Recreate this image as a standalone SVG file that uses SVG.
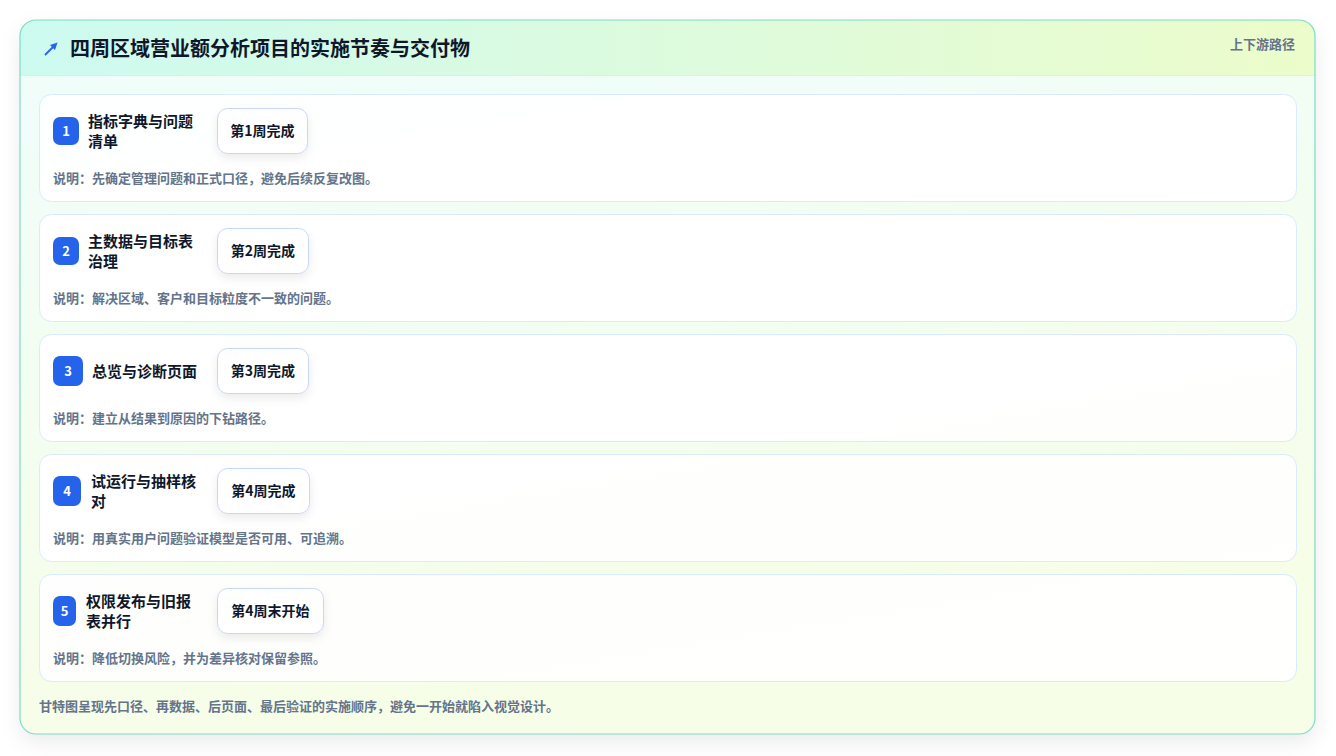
<svg xmlns="http://www.w3.org/2000/svg" width="1336" height="756" viewBox="0 0 1336 756">
<defs>
<linearGradient id="hdr" x1="0" y1="0" x2="1" y2="0">
<stop offset="0" stop-color="#cdfaf0"/>
<stop offset="1" stop-color="#ecfccb"/>
</linearGradient>
<linearGradient id="body" x1="0" y1="0" x2="0.3" y2="1">
<stop offset="0" stop-color="#effdfb"/>
<stop offset="1" stop-color="#f7fee7"/>
</linearGradient>
<clipPath id="cardClip"><rect x="20" y="20" width="1295" height="714" rx="16"/></clipPath>
<filter id="shadow" x="-10%" y="-10%" width="120%" height="130%">
<feDropShadow dx="0" dy="8" stdDeviation="10" flood-color="#0f172a" flood-opacity="0.08"/>
</filter>
<filter id="tagShadow" x="-20%" y="-20%" width="140%" height="160%">
<feDropShadow dx="0" dy="4" stdDeviation="5" flood-color="#0f172a" flood-opacity="0.08"/>
</filter>
<marker id="arr" viewBox="0 0 10 10" refX="5" refY="5" markerWidth="4" markerHeight="4" orient="auto">
<path d="M0,0 L10,5 L0,10 z" fill="#2563eb"/>
</marker>
</defs>
<style>
text{font-family:"Noto Sans CJK SC","Noto Sans",sans-serif;}
.title{font-size:20px;font-weight:700;fill:#0f172a;}
.meta{font-size:13px;font-weight:600;fill:#64748b;}
.row{fill:#ffffff;fill-opacity:0.9;stroke:#dbeafe;stroke-width:1;}
.badge{fill:#2563eb;}
.bnum{font-size:13px;font-weight:700;fill:#ffffff;text-anchor:middle;}
.name{font-size:15px;font-weight:700;fill:#0f172a;}
.tag{fill:#ffffff;stroke:#c7d7f5;stroke-width:1;}
.tagt{font-size:14px;font-weight:700;fill:#0f172a;text-anchor:middle;}
.desc{font-size:13px;font-weight:600;fill:#64748b;}
</style>
<rect width="1336" height="756" fill="#ffffff"/>
<g id="card">
<rect x="20" y="20" width="1295" height="714" rx="16" fill="url(#body)" filter="url(#shadow)"/>
<g clip-path="url(#cardClip)">
<rect x="20" y="20" width="1295" height="55" fill="url(#hdr)"/>
<line x1="20" y1="75.5" x2="1315" y2="75.5" stroke="#d5f3ee" stroke-width="1"/>
</g>
<rect x="20" y="20" width="1295" height="714" rx="16" fill="none" stroke="#7ddcc8" stroke-width="1.2"/>
</g>
<g id="header">
<line x1="45" y1="55" x2="55" y2="45" stroke="#2563eb" stroke-width="1.8" marker-end="url(#arr)"/>
<text class="title" x="70" y="56">四周区域营业额分析项目的实施节奏与交付物</text>
<text class="meta" x="1295" y="49" text-anchor="end">上下游路径</text>
</g>
<g id="step1">
<rect class="row" x="39.5" y="94.5" width="1257" height="107" rx="12"/>
<rect class="badge" x="53" y="117" width="26" height="28" rx="7"/>
<text class="bnum" x="66" y="136">1</text>
<text class="name" x="88" y="126.5">指标字典与问题</text>
<text class="name" x="88" y="146.5">清单</text>
<rect class="tag" x="217.5" y="108.5" width="90" height="45" rx="10" filter="url(#tagShadow)"/>
<text class="tagt" x="262.5" y="136">第1周完成</text>
<text class="desc" x="53" y="183">说明：先确定管理问题和正式口径，避免后续反复改图。</text>
</g>
<g id="step2">
<rect class="row" x="39.5" y="214.5" width="1257" height="107" rx="12"/>
<rect class="badge" x="53" y="237" width="26" height="28" rx="7"/>
<text class="bnum" x="66" y="256">2</text>
<text class="name" x="88" y="246.5">主数据与目标表</text>
<text class="name" x="88" y="266.5">治理</text>
<rect class="tag" x="217.5" y="228.5" width="91" height="45" rx="10" filter="url(#tagShadow)"/>
<text class="tagt" x="263" y="256">第2周完成</text>
<text class="desc" x="53" y="303">说明：解决区域、客户和目标粒度不一致的问题。</text>
</g>
<g id="step3">
<rect class="row" x="39.5" y="334.5" width="1257" height="107" rx="12"/>
<rect class="badge" x="53" y="356" width="30" height="30" rx="7"/>
<text class="bnum" x="68" y="376">3</text>
<text class="name" x="92" y="376.5">总览与诊断页面</text>
<rect class="tag" x="217.5" y="348.5" width="91" height="45" rx="10" filter="url(#tagShadow)"/>
<text class="tagt" x="263" y="376">第3周完成</text>
<text class="desc" x="53" y="423">说明：建立从结果到原因的下钻路径。</text>
</g>
<g id="step4">
<rect class="row" x="39.5" y="454.5" width="1257" height="107" rx="12"/>
<rect class="badge" x="53" y="476" width="28" height="30" rx="7"/>
<text class="bnum" x="67" y="496">4</text>
<text class="name" x="91" y="486.5">试运行与抽样核</text>
<text class="name" x="91" y="506.5">对</text>
<rect class="tag" x="217.5" y="468.5" width="92" height="45" rx="10" filter="url(#tagShadow)"/>
<text class="tagt" x="263.5" y="496">第4周完成</text>
<text class="desc" x="53" y="543">说明：用真实用户问题验证模型是否可用、可追溯。</text>
</g>
<g id="step5">
<rect class="row" x="39.5" y="574.5" width="1257" height="107" rx="12"/>
<rect class="badge" x="53" y="596" width="23" height="30" rx="7"/>
<text class="bnum" x="64.5" y="616">5</text>
<text class="name" x="86" y="606.5">权限发布与旧报</text>
<text class="name" x="86" y="626.5">表并行</text>
<rect class="tag" x="217.5" y="588.5" width="106" height="45" rx="10" filter="url(#tagShadow)"/>
<text class="tagt" x="270.5" y="616">第4周末开始</text>
<text class="desc" x="53" y="663">说明：降低切换风险，并为差异核对保留参照。</text>
</g>
<g id="footer">
<text class="desc" x="39" y="711">甘特图呈现先口径、再数据、后页面、最后验证的实施顺序，避免一开始就陷入视觉设计。</text>
</g>
<g id="connectors"></g>
</svg>
